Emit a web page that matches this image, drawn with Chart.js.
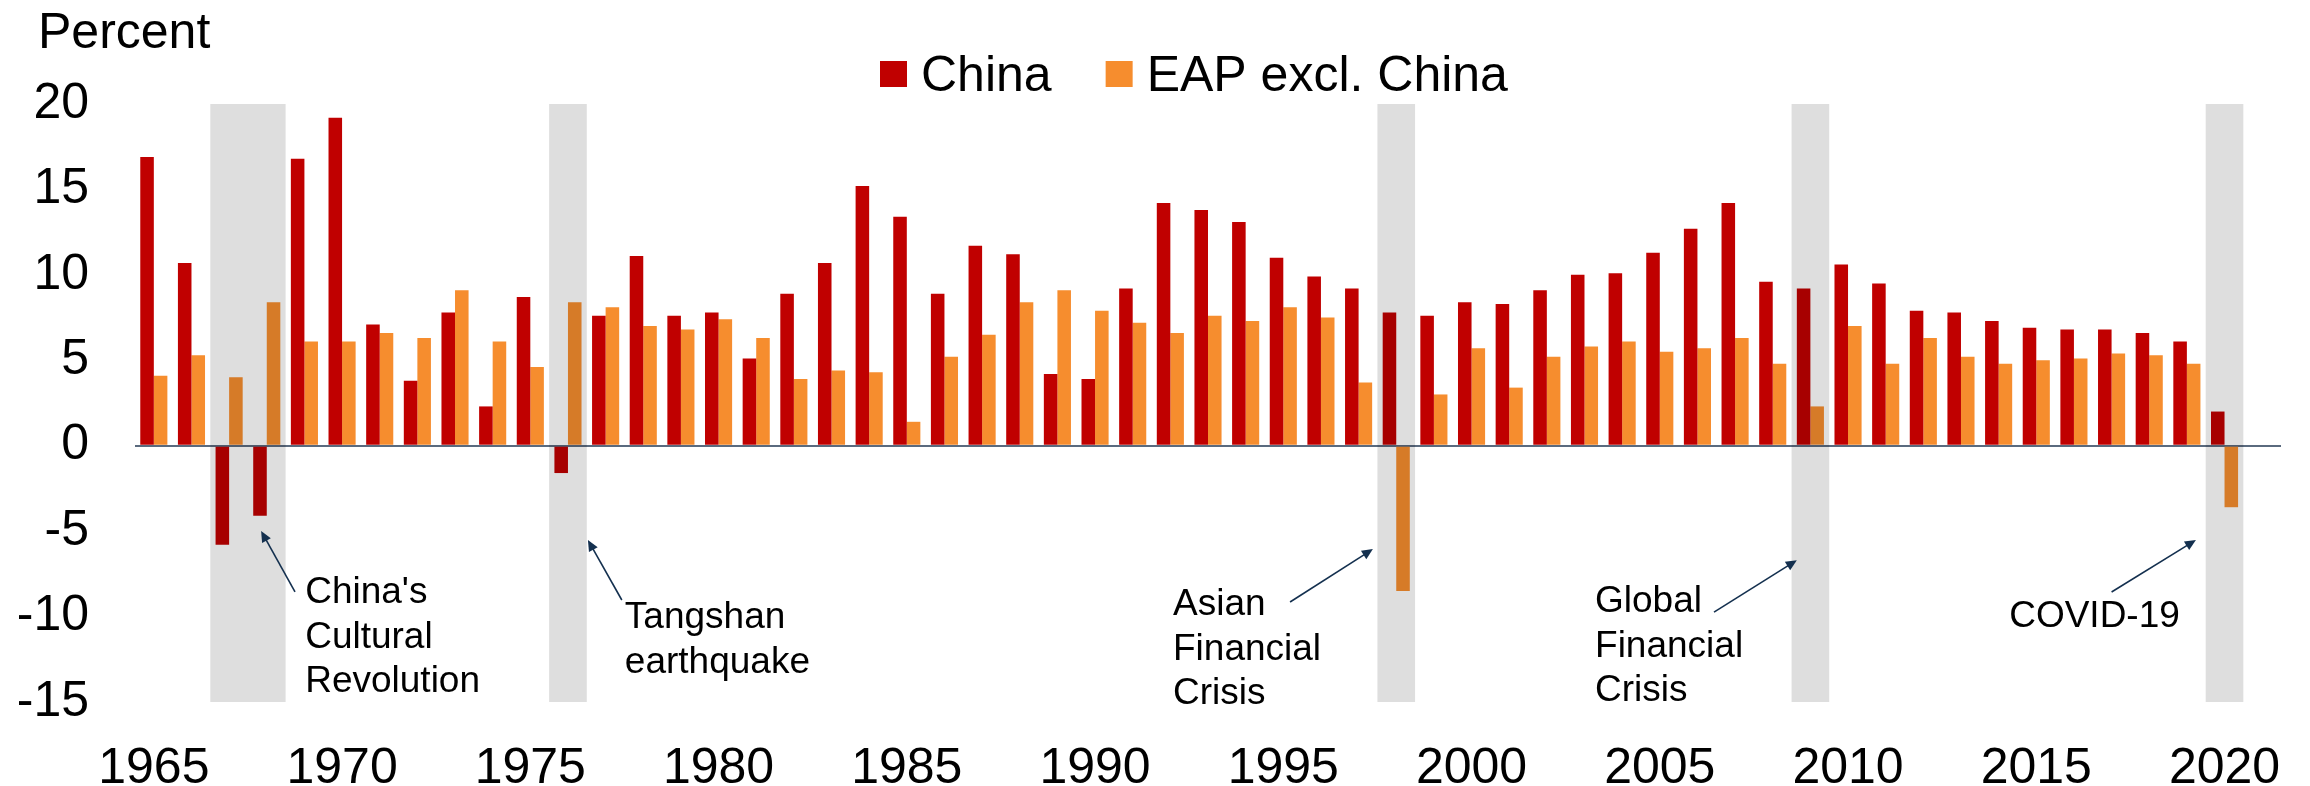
<!DOCTYPE html>
<html>
<head>
<meta charset="utf-8">
<title>GDP growth: China vs EAP excl. China</title>
<script src="https://cdn.jsdelivr.net/npm/chart.js@4.4.1/dist/chart.umd.min.js"></script>
<style>
    html, body { margin: 0; padding: 0; background: #ffffff; }
    #wrap { position: relative; width: 2310px; height: 786px; }
</style>
</head>
<body>
<div id="wrap"><canvas id="growthChart"></canvas></div>
<script>
// ========================================
// Data
// ========================================

const years = [
    '1965', '1966', '1967', '1968', '1969', '1970', '1971', '1972', '1973', '1974',
    '1975', '1976', '1977', '1978', '1979', '1980', '1981', '1982', '1983', '1984',
    '1985', '1986', '1987', '1988', '1989', '1990', '1991', '1992', '1993', '1994',
    '1995', '1996', '1997', '1998', '1999', '2000', '2001', '2002', '2003', '2004',
    '2005', '2006', '2007', '2008', '2009', '2010', '2011', '2012', '2013', '2014',
    '2015', '2016', '2017', '2018', '2019', '2020', '2021'
];

const chinaGrowth = [
    16.9, 10.7, -5.8, -4.1, 16.8, 19.2, 7.1, 3.8, 7.8, 2.3,
    8.7, -1.6, 7.6, 11.1, 7.6, 7.8, 5.1, 8.9, 10.7, 15.2,
    13.4, 8.9, 11.7, 11.2, 4.2, 3.9, 9.2, 14.2, 13.8, 13.1,
    11.0, 9.9, 9.2, 7.8, 7.6, 8.4, 8.3, 9.1, 10.0, 10.1,
    11.3, 12.7, 14.2, 9.6, 9.2, 10.6, 9.5, 7.9, 7.8, 7.3,
    6.9, 6.8, 6.8, 6.6, 6.1, 2.0, null
];

const eapGrowth = [
    4.1, 5.3, 4.0, 8.4, 6.1, 6.1, 6.6, 6.3, 9.1, 6.1,
    4.6, 8.4, 8.1, 7.0, 6.8, 7.4, 6.3, 3.9, 4.4, 4.3,
    1.4, 5.2, 6.5, 8.4, 9.1, 7.9, 7.2, 6.6, 7.6, 7.3,
    8.1, 7.5, 3.7, -8.5, 3.0, 5.7, 3.4, 5.2, 5.8, 6.1,
    5.5, 5.7, 6.3, 4.8, 2.3, 7.0, 4.8, 6.3, 5.2, 4.8,
    5.0, 5.1, 5.4, 5.3, 4.8, -3.6, null
];

const labelYears = ['1965', '1970', '1975', '1980', '1985', '1990', '1995', '2000', '2005', '2010', '2015', '2020'];
const yTicks = [-15, -10, -5, 0, 5, 10, 15, 20];

// Years highlighted by grey bands
const shadedYears = ['1967', '1968', '1976', '1998', '2009', '2020'];

// Annotation text + arrows, anchored in (category index, value) units
const annotations = [
    { lines: ["China's", 'Cultural', 'Revolution'], at: [4.02, -9.21], from: [3.75, -8.56], to: [2.85, -4.99] },
    { lines: ['Tangshan', 'earthquake'], at: [12.51, -10.67], from: [12.43, -9.03], to: [11.53, -5.52] },
    { lines: ['Asian', 'Financial', 'Crisis'], at: [27.07, -9.91], from: [30.18, -9.15], to: [32.38, -6.05] },
    { lines: ['Global', 'Financial', 'Crisis'], at: [38.28, -9.74], from: [41.44, -9.74], to: [43.64, -6.7] },
    { lines: ['COVID-19'], at: [49.28, -10.61], from: [52.0, -8.56], to: [54.24, -5.52] }
];

const FONT = '"Liberation Sans", Arial, sans-serif';

// ========================================
// Overlay plugin: bands, annotations, legend, unit label
// ========================================

function idxToPx(xScale, i) {
    const step = xScale.getPixelForValue(1) - xScale.getPixelForValue(0);
    return xScale.getPixelForValue(0) + i * step;
}

function drawArrow(ctx, x1, y1, x2, y2) {
    const ang = Math.atan2(y2 - y1, x2 - x1);
    const len = 11, half = 5;
    ctx.beginPath();
    ctx.moveTo(x1, y1);
    ctx.lineTo(x2 - Math.cos(ang) * len * 0.8, y2 - Math.sin(ang) * len * 0.8);
    ctx.stroke();
    ctx.beginPath();
    ctx.moveTo(x2, y2);
    ctx.lineTo(x2 - Math.cos(ang) * len - Math.sin(ang) * half, y2 - Math.sin(ang) * len + Math.cos(ang) * half);
    ctx.lineTo(x2 - Math.cos(ang) * len + Math.sin(ang) * half, y2 - Math.sin(ang) * len - Math.cos(ang) * half);
    ctx.closePath();
    ctx.fill();
}

const overlayPlugin = {
    id: 'overlay',
    afterDatasetsDraw(chart) {
        const { ctx, scales: { x, y } } = chart;
        const step = x.getPixelForValue(1) - x.getPixelForValue(0);
        const top = y.getPixelForValue(20);
        const bottom = y.getPixelForValue(-15);

        // group consecutive shaded years into one band
        const idx = shadedYears.map(yr => years.indexOf(yr)).sort((a, b) => a - b);
        const groups = [];
        idx.forEach(i => {
            const last = groups[groups.length - 1];
            if (last && i === last[1] + 1) last[1] = i;
            else groups.push([i, i]);
        });

        ctx.save();
        ctx.globalCompositeOperation = 'multiply';
        ctx.fillStyle = '#dedede';
        groups.forEach(([a, b]) => {
            const x0 = x.getPixelForValue(a) - step / 2;
            const x1 = x.getPixelForValue(b) + step / 2;
            ctx.fillRect(x0, top, x1 - x0, bottom - top);
        });
        ctx.restore();
    },
    afterDraw(chart) {
        const { ctx, scales: { x, y } } = chart;
        ctx.save();

        // Annotations
        ctx.font = '37px ' + FONT;
        ctx.fillStyle = '#000000';
        ctx.textAlign = 'left';
        ctx.textBaseline = 'alphabetic';
        annotations.forEach(a => {
            const tx = idxToPx(x, a.at[0]);
            const ty = y.getPixelForValue(a.at[1]);
            a.lines.forEach((line, k) => ctx.fillText(line, tx, ty + k * 44.5));
        });
        ctx.strokeStyle = '#14304f';
        ctx.fillStyle = '#14304f';
        ctx.lineWidth = 1.6;
        annotations.forEach(a => {
            drawArrow(ctx,
                idxToPx(x, a.from[0]), y.getPixelForValue(a.from[1]),
                idxToPx(x, a.to[0]), y.getPixelForValue(a.to[1]));
        });

        // Unit label
        ctx.font = '50px ' + FONT;
        ctx.fillStyle = '#000000';
        ctx.fillText('Percent', 38, 48);

        // Legend
        let lx = chart.chartArea.left + 745;
        chart.data.datasets.forEach(ds => {
            ctx.fillStyle = ds.backgroundColor;
            ctx.fillRect(lx, 61, 27, 26);
            ctx.fillStyle = '#000000';
            ctx.fillText(ds.label, lx + 41, 91);
            lx += 41 + ctx.measureText(ds.label).width + 54;
        });

        ctx.restore();
    }
};

// ========================================
// Chart
// ========================================

document.addEventListener('DOMContentLoaded', function () {
    Chart.defaults.font.family = FONT;
    Chart.defaults.color = '#000000';

    const chartCtx = document.getElementById('growthChart');
    new Chart(chartCtx, {
        type: 'bar',
        data: {
            labels: years,
            datasets: [
                {
                    label: 'China',
                    data: chinaGrowth,
                    backgroundColor: '#c00000',
                    borderWidth: 0
                },
                {
                    label: 'EAP excl. China',
                    data: eapGrowth,
                    backgroundColor: '#f68d2e',
                    borderWidth: 0
                }
            ]
        },
        options: {
            responsive: true,
            maintainAspectRatio: false,
            animation: false,
            categoryPercentage: 0.72,
            barPercentage: 1.0,
            layout: {
                padding: { top: 104, right: 29, left: 0, bottom: 0 }
            },
            plugins: {
                legend: { display: false },
                tooltip: { enabled: false }
            },
            scales: {
                x: {
                    grid: { display: false },
                    border: { display: false },
                    ticks: {
                        autoSkip: false,
                        maxRotation: 0,
                        minRotation: 0,
                        padding: 29,
                        font: { size: 50 },
                        color: '#000000',
                        callback: function (value) {
                            const lab = this.getLabelForValue(value);
                            return labelYears.includes(lab) ? lab : '';
                        }
                    },
                    afterFit: function (scale) { scale.height = 84; }
                },
                y: {
                    min: yTicks[0],
                    max: yTicks[yTicks.length - 1],
                    z: 1,
                    border: { display: false },
                    grid: {
                        drawTicks: false,
                        lineWidth: 2,
                        color: ctx => (ctx.tick && ctx.tick.value === 0 ? '#5a6a7e' : 'rgba(0,0,0,0)')
                    },
                    afterBuildTicks: function (scale) {
                        scale.ticks = yTicks.map(v => ({ value: v }));
                    },
                    ticks: {
                        padding: 46,
                        font: { size: 50 },
                        color: '#000000',
                        callback: value => String(value)
                    },
                    afterFit: function (scale) { scale.width = 135; }
                }
            }
        },
        plugins: [overlayPlugin]
    });
});
</script>
</body>
</html>
